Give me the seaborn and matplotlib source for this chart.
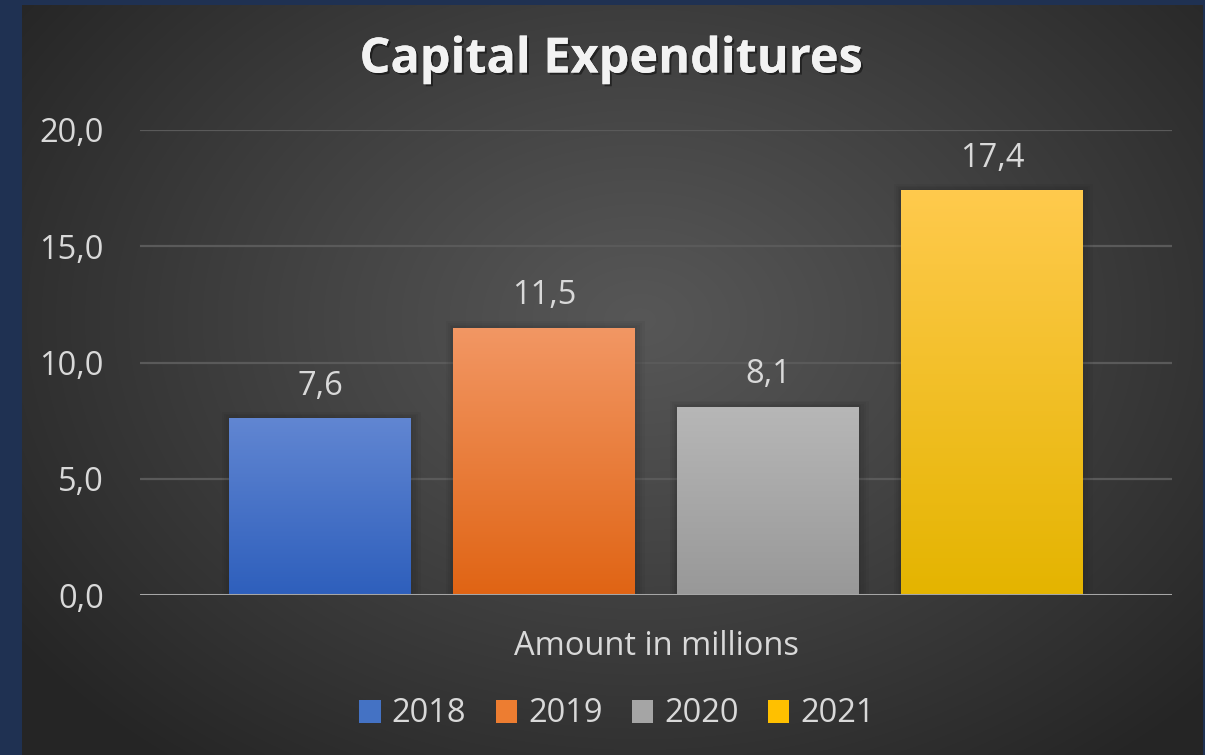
import numpy as np
import pandas as pd
import matplotlib
matplotlib.use("Agg")
import matplotlib.pyplot as plt
import matplotlib.patheffects as pe
from matplotlib.patches import Patch
from matplotlib.colors import LinearSegmentedColormap
import seaborn as sns

# --- data ---
category = ["Amount in millions"]
years = ["2018", "2019", "2020", "2021"]
values = [7.6, 11.5, 8.1, 17.4]
y_ticks = [0, 5, 10, 15, 20]

# top / bottom colours of each bar's vertical gradient
top_colors = ["#6186d2", "#f29764", "#b7b7b7", "#ffca4d"]
bottom_colors = ["#2e5fbc", "#e06414", "#989898", "#e4b400"]
mid_colors = ["#4472c4", "#ed7d31", "#a5a5a5", "#ffc000"]

df = pd.DataFrame({"category": category * len(years), "year": years, "value": values})

sns.set_theme(style="white")
FONT = ["Open Sans", "DejaVu Sans"]
plt.rcParams["font.family"] = FONT
FS = 23.5

W, H = 1205, 755
fig = plt.figure(figsize=(W / 100, H / 100), dpi=100, facecolor="#1f3152")

# dark panel with a soft radial highlight
bg = fig.add_axes([22 / W, 0, (1203 - 22) / W, 750 / H])
bg.set_axis_off()
nx, ny = 600, 375
xx, yy = np.meshgrid(np.linspace(22, 1203, nx), np.linspace(5, 755, ny))
d = np.sqrt(((xx - 640) / 760) ** 2 + ((yy - 320) / 560) ** 2)
d = np.clip(d, 0, 1)
light = 0.34 - (0.34 - 0.148) * d ** 1.1
bg.imshow(np.dstack([light, light, light]), extent=[0, 1, 0, 1], aspect="auto",
          origin="upper", interpolation="bilinear")
bg.set_xlim(0, 1)
bg.set_ylim(0, 1)

ax = fig.add_axes([140 / W, 1 - 595 / H, (1172 - 140) / W, (595 - 130) / H])
ax.patch.set_alpha(0)

sns.barplot(data=df, x="category", y="value", hue="year", hue_order=years,
            palette=mid_colors, width=0.868, gap=0.19, saturation=1,
            ax=ax, legend=False, zorder=3)

ax.set_ylim(0, 20)
ax.set_xlim(-0.5, 0.5)
ax.set_yticks(y_ticks)
ax.set_yticklabels([f"{v:.1f}".replace(".", ",") for v in y_ticks])
ax.set_xlabel("")
ax.set_ylabel("")
for s in ax.spines.values():
    s.set_visible(False)

# horizontal gridlines
for v in y_ticks[1:]:
    ax.axhline(v, color="#5a5a5a", lw=1.6, zorder=1)
ax.axhline(0, color="#a6a6a6", lw=2.2, zorder=5)

ax.tick_params(axis="y", length=0, pad=26, labelsize=FS, labelcolor="#d9d9d9")
ax.tick_params(axis="x", length=0, pad=25, labelsize=FS, labelcolor="#d9d9d9")

# gradient fills and soft shadows on the bars
bars = [p for p in ax.patches]
for i, p in enumerate(bars):
    x0, w, h = p.get_x(), p.get_width(), p.get_height()
    for k in range(4):
        grow = 0.003 * (k + 1)
        ax.add_patch(plt.Rectangle((x0 - grow * 0.6, 0), w + grow * 1.4, h + grow * 22,
                                   color="black", alpha=0.035, lw=0, zorder=2))
    cmap = LinearSegmentedColormap.from_list(f"g{i}", [bottom_colors[i], top_colors[i]])
    grad = np.linspace(1, 0, 256).reshape(-1, 1)
    im = ax.imshow(grad, cmap=cmap, extent=[x0, x0 + w, 0, h], aspect="auto",
                   origin="upper", zorder=4, interpolation="bilinear")
    im.set_clip_path(p)
    p.set_facecolor("none")
    p.set_edgecolor("none")
    p.set_linewidth(0)
ax.set_xlim(-0.5, 0.5)
ax.set_ylim(0, 20)

# value labels above each bar
for i, cont in enumerate(ax.containers):
    ax.bar_label(cont, labels=[f"{values[i]:.1f}".replace(".", ",")], padding=11,
                 fontsize=FS, color="#d9d9d9", zorder=6)

# title
fig.text(611 / W, 1 - 60 / H, "Capital Expenditures", ha="center", va="center",
         fontsize=35, fontweight="bold", color="#f2f2f2", family=FONT,
         path_effects=[pe.withSimplePatchShadow(offset=(1.5, -1.5), shadow_rgbFace="black", alpha=0.45),
                       pe.Normal()])

# legend
handles = [Patch(facecolor=c, edgecolor="none") for c in mid_colors]
fig.legend(handles, years, loc="center", bbox_to_anchor=(617 / W, 1 - 714 / H), ncol=4,
           frameon=False, fontsize=FS, labelcolor="#d9d9d9", handlelength=0.66,
           handleheight=0.7, handletextpad=0.33, columnspacing=0.9)

fig.savefig("out.png", dpi=100, facecolor=fig.get_facecolor())
